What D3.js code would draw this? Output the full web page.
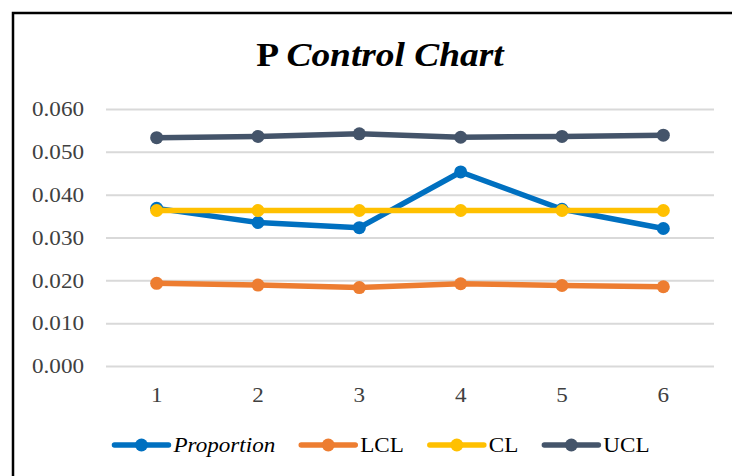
<!DOCTYPE html>
<html>
<head>
<meta charset="utf-8">
<script src="https://cdn.jsdelivr.net/npm/d3@7"></script>
<style>
  body { margin: 0; background: #fff; }
  svg { display: block; font-family: "Liberation Serif", "Times New Roman", serif; }
</style>
</head>
<body>
<div id="chart"></div>
<script>
// data
var samples = ["1", "2", "3", "4", "5", "6"];
var proportion = [0.0368, 0.0335, 0.0323, 0.0453, 0.0366, 0.0321];
var lcl = [0.0193, 0.0189, 0.0183, 0.0192, 0.0188, 0.0185];
var cl = [0.0363, 0.0363, 0.0363, 0.0363, 0.0363, 0.0363];
var ucl = [0.0533, 0.0536, 0.0542, 0.0534, 0.0536, 0.0539];
var yTicks = [0, 0.01, 0.02, 0.03, 0.04, 0.05, 0.06];

var series = [
  { name: "Proportion", values: proportion, color: "#0070C0", italic: true },
  { name: "LCL", values: lcl, color: "#ED7D31" },
  { name: "CL", values: cl, color: "#FFC000" },
  { name: "UCL", values: ucl, color: "#44546A" }
];

var svgWidth = 732, svgHeight = 476;
var stretch = 1.1; // text in the picture is a bit wide

var svg = d3.select("#chart").append("svg")
  .attr("width", svgWidth)
  .attr("height", svgHeight);

// outer frame (runs off right/bottom edges)
svg.append("rect")
  .attr("x", 13).attr("y", 13)
  .attr("width", 740).attr("height", 480)
  .attr("fill", "#fff")
  .attr("stroke", "#000")
  .attr("stroke-width", 2.5);

// title
var title = svg.append("text")
  .attr("transform", "translate(380,66) scale(" + stretch + ",1)")
  .attr("text-anchor", "middle")
  .style("font-size", "34px")
  .style("fill", "#000");
title.append("tspan").style("font-weight", "bold").text("P ");
title.append("tspan").style("font-weight", "bold").style("font-style", "italic").text("Control Chart");

// plot area (window.top is reserved, so use other names)
var plotLeft = 106, plotRight = 714, plotTop = 109, plotBottom = 366;

var x = d3.scaleBand().domain(samples).range([plotLeft, plotRight]);
var y = d3.scaleLinear().domain([0, 0.06]).range([plotBottom, plotTop]);
var cx = function(d, i) { return x(samples[i]) + x.bandwidth() / 2; };

// y axis with gridlines
var yAxis = svg.append("g")
  .attr("transform", "translate(" + plotLeft + ",0)")
  .call(d3.axisLeft(y).tickValues(yTicks).tickFormat(d3.format(".3f")).tickSize(-(plotRight - plotLeft)).tickPadding(22));
yAxis.select(".domain").remove();
yAxis.selectAll("line").attr("stroke", "#d9d9d9").attr("stroke-width", 2);
yAxis.selectAll("text")
  .attr("x", null)
  .attr("transform", "translate(-22,0) scale(" + stretch + ",1)")
  .style("font-size", "21px")
  .style("font-family", "Liberation Serif")
  .attr("fill", "#404040");

// x axis labels
var xAxis = svg.append("g")
  .attr("transform", "translate(0," + plotBottom + ")")
  .call(d3.axisBottom(x).tickSize(0).tickPadding(22));
xAxis.select(".domain").remove();
xAxis.selectAll("text")
  .attr("y", null).attr("dy", null)
  .attr("transform", "translate(0,36) scale(" + stretch + ",1)")
  .style("font-size", "21px")
  .style("font-family", "Liberation Serif")
  .attr("fill", "#404040");

// lines + markers
var line = d3.line().x(cx).y(function(d) { return y(d); });

series.forEach(function(s) {
  var g = svg.append("g");
  g.append("path")
    .datum(s.values)
    .attr("d", line)
    .attr("fill", "none")
    .attr("stroke", s.color)
    .attr("stroke-width", 5.5)
    .attr("stroke-linejoin", "round");
  g.selectAll("circle")
    .data(s.values)
    .enter()
    .append("circle")
    .attr("cx", cx)
    .attr("cy", function(d) { return y(d); })
    .attr("r", 6.5)
    .attr("fill", s.color);
});

// legend
var legend = svg.append("g");
var items = legend.selectAll("g")
  .data(series)
  .enter()
  .append("g");

items.append("line")
  .attr("x1", 0).attr("x2", 54)
  .attr("y1", 0).attr("y2", 0)
  .attr("stroke", function(d) { return d.color; })
  .attr("stroke-width", 5.5)
  .attr("stroke-linecap", "round");
items.append("circle")
  .attr("cx", 27).attr("cy", 0).attr("r", 6.5)
  .attr("fill", function(d) { return d.color; });
items.append("text")
  .attr("transform", "translate(59,7) scale(" + stretch + ",1)")
  .style("font-size", "21px")
  .style("font-style", function(d) { return d.italic ? "italic" : "normal"; })
  .attr("fill", "#000")
  .text(function(d) { return d.name; });

// lay legend items out side by side, centered
var pos = 0, widths = [];
items.each(function() {
  var w = 59 + d3.select(this).select("text").node().getComputedTextLength() * stretch;
  widths.push(w);
});
var gap = 26;
var total = d3.sum(widths) + gap * (widths.length - 1);
var start = 382 - total / 2;
items.attr("transform", function(d, i) {
  var tx = start + pos;
  pos += widths[i] + gap;
  return "translate(" + tx + ",445)";
});
</script>
</body>
</html>
